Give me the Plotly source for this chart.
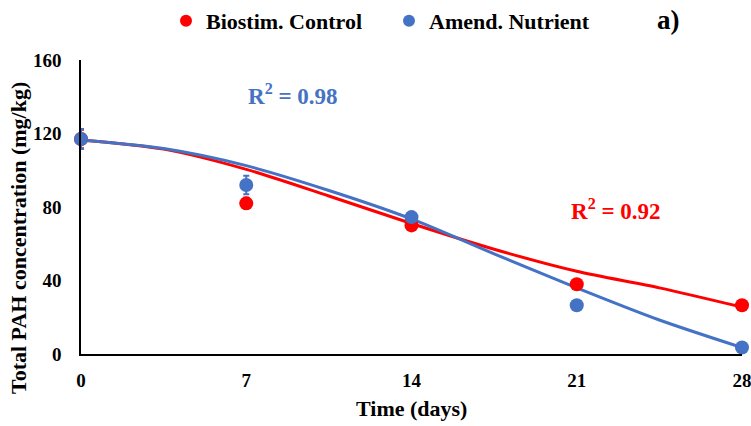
import plotly.graph_objects as go

# measured points
days = [0, 7, 14, 21, 28]
control = [117, 82, 70, 38, 26.5]
control_err = [5, 3, 2, 1, 1]
nutrient = [117, 92, 74.5, 26.5, 3.5]
nutrient_err = [5.5, 5, 2.5, 1, 1]

# trendlines
trend_days = [0, 3.5, 7, 10.5, 14, 17.5, 21, 24.5, 28]
control_trend = [116.5, 111.5, 100.5, 86, 71, 57, 45, 36, 25.5]
nutrient_trend = [116.5, 111.8, 102.5, 89, 73.5, 54.5, 36, 18.5, 3.5]

x_ticks = [0, 7, 14, 21, 28]
y_ticks = [0, 40, 80, 120, 160]

RED = "#FF0000"
BLUE = "#4472C4"
FONT = "Liberation Serif"

fig = go.Figure()

for ty, col in [(control_trend, RED), (nutrient_trend, BLUE)]:
    fig.add_trace(go.Scatter(x=trend_days, y=ty, mode="lines",
                             line=dict(color=col, width=3, shape="spline", smoothing=0.8),
                             showlegend=False, hoverinfo="skip", cliponaxis=False))

for y, err, col, name in [(control, control_err, RED, "Biostim. Control"),
                          (nutrient, nutrient_err, BLUE, "Amend. Nutrient")]:
    fig.add_trace(go.Scatter(x=days, y=y, mode="markers", name=name,
                             marker=dict(color=col, size=14),
                             error_y=dict(type="data", array=err, color=col,
                                          thickness=2, width=3),
                             cliponaxis=False))

fig.update_layout(
    width=751, height=426,
    margin=dict(l=81, r=9, t=60, b=72),
    paper_bgcolor="white", plot_bgcolor="white",
    font=dict(family=FONT, size=18, color="black"),
    legend=dict(orientation="h", xref="container", yref="container",
                x=166 / 751, xanchor="left", y=1.0, yanchor="top",
                font=dict(family=FONT, size=22, color="black", weight="bold"),
                itemsizing="constant", itemwidth=30, traceorder="normal",
                entrywidth=178, entrywidthmode="pixels"),
    xaxis=dict(range=[0, 28], tickvals=x_ticks, showgrid=False, zeroline=False,
               showline=True, linecolor="black", linewidth=1.5, ticks="", automargin=False,
               tickfont=dict(family=FONT, size=19, weight="bold"), ticklabelstandoff=8,
               ticklabeloverflow="allow"),
    yaxis=dict(range=[0, 160], tickvals=y_ticks, showgrid=False, zeroline=False,
               showline=True, linecolor="black", linewidth=1.5, ticks="", automargin=False,
               tickfont=dict(family=FONT, size=19, weight="bold"), ticklabelstandoff=14,
               ticklabeloverflow="allow"),
    annotations=[
        dict(text="Time (days)", x=(411 - 81) / 661, y=(354 - 408) / 294, xref="paper", yref="paper",
             xanchor="center", yanchor="middle",
             showarrow=False, font=dict(family=FONT, size=22, weight="bold")),
        dict(text="Total PAH concentration (mg/kg)", x=(18 - 81) / 661, y=(354 - 238) / 294,
             xref="paper", yref="paper", textangle=-90, showarrow=False,
             xanchor="center", yanchor="middle",
             font=dict(family=FONT, size=22, weight="bold")),
        dict(text="R<sup>2</sup> = 0.98", x=8.98, y=141, xref="x", yref="y", showarrow=False,
             xanchor="center", yanchor="middle",
             font=dict(family=FONT, size=23, color=BLUE, weight="bold")),
        dict(text="R<sup>2</sup> = 0.92", x=22.66, y=78.4, xref="x", yref="y", showarrow=False,
             xanchor="center", yanchor="middle",
             font=dict(family=FONT, size=23, color=RED, weight="bold")),
        dict(text="a)", x=(668 - 81) / 661, y=(354 - 20) / 294, xref="paper", yref="paper",
             xanchor="center", yanchor="middle",
             showarrow=False, font=dict(family=FONT, size=27, color="black", weight="bold")),
    ],
)
fig.write_html("out.html", config={"displayModeBar": False},
               post_script="document.body.style.margin='0';")
